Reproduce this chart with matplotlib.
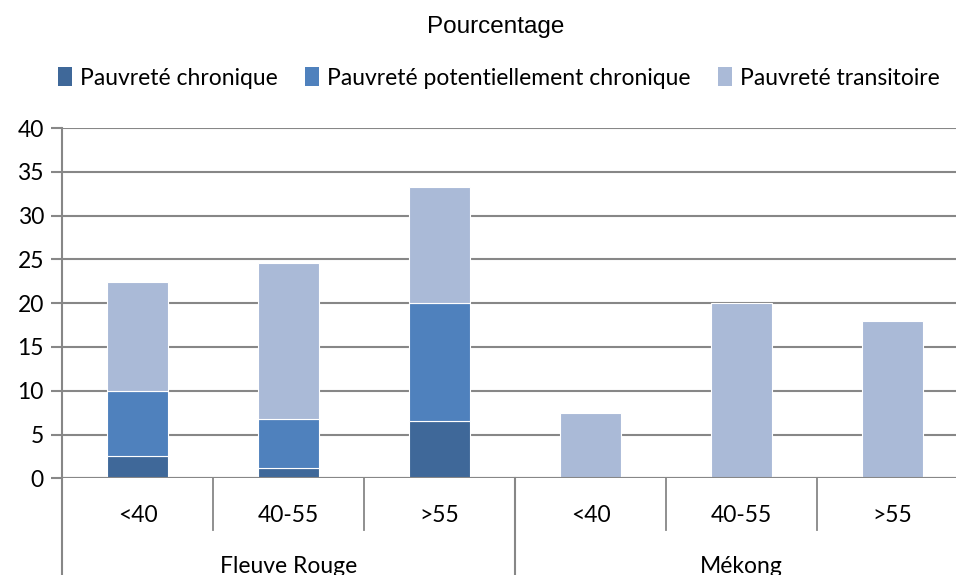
import matplotlib
matplotlib.use("Agg")
import matplotlib.pyplot as plt
from matplotlib.patches import Patch
import numpy as np

groups = ["Fleuve Rouge", "Mékong"]
age_labels = ["<40", "40-55", ">55", "<40", "40-55", ">55"]
series_names = ["Pauvreté chronique", "Pauvreté potentiellement chronique", "Pauvreté transitoire"]
chronique = [2.5, 1.2, 6.6, 0.0, 0.0, 0.0]
potentielle = [7.5, 5.6, 13.4, 0.0, 0.0, 0.0]
transitoire = [12.4, 17.8, 13.3, 7.5, 20.0, 18.0]
yticks = [0, 5, 10, 15, 20, 25, 30, 35, 40]

colors = ["#3F6899", "#4F81BD", "#AABAD7"]
grid_c = "#878787"
FONT = "Lato"
FS = 16.5

W, H = 956, 575
fig = plt.figure(figsize=(W / 100, H / 100), dpi=100)
x0, x1 = 62, 62 + 6 * 151
ytop, ybot = 128, 478.3
ax = fig.add_axes([x0 / W, (H - ybot) / H, (x1 - x0) / W, (ybot - ytop) / H])

x = np.arange(len(age_labels))
bw = 0.41
bottom = np.zeros(len(x))
for vals, c in zip([chronique, potentielle, transitoire], colors):
    v = np.array(vals)
    ax.bar(x, v, bw, bottom=bottom, color=c, edgecolor="white", linewidth=0.8, zorder=3)
    bottom += v

ax.set_xlim(-0.5, len(x) - 0.5)
ax.set_ylim(0, 40)
ax.set_yticks(yticks)
ax.set_yticklabels([str(t) for t in yticks], fontfamily=FONT, fontsize=FS)
ax.yaxis.grid(True, color=grid_c, linewidth=1.5, zorder=0)
ax.tick_params(axis="y", length=8, width=1.5, color=grid_c, pad=5)
ax.set_xticks([])
for s in ["top", "right", "bottom"]:
    ax.spines[s].set_visible(False)
ax.spines["left"].set_color(grid_c)
ax.spines["left"].set_linewidth(1.5)
ax.axhline(0, color=grid_c, linewidth=1.5, zorder=4)

trans = ax.get_xaxis_transform()
ppu = 1.0 / (ybot - ytop)
for b in [0.5, 1.5, 3.5, 4.5]:
    ax.plot([b, b], [0, -52 * ppu], transform=trans, color=grid_c, lw=1.3, clip_on=False)
for b in [-0.5, 2.5, 5.5]:
    ax.plot([b, b], [0, -120 * ppu], transform=trans, color=grid_c, lw=1.5, clip_on=False)

for xi, lab in zip(x, age_labels):
    ax.text(xi, -37 * ppu, lab, transform=trans, ha="center", va="center",
            fontfamily=FONT, fontsize=FS)
for gi, g in enumerate(groups):
    ax.text(gi * 3 + 1, -88 * ppu, g, transform=trans, ha="center", va="center",
            fontfamily=FONT, fontsize=FS)

fig.text(496 / W, 1 - 27 / H, "Pourcentage", ha="center", va="center",
         fontfamily="Liberation Sans", fontsize=17.5)

handles = [Patch(facecolor=c, edgecolor="none") for c in colors]
fig.legend(handles, series_names, loc="center", bbox_to_anchor=(499 / W, 1 - 78 / H),
           ncol=3, frameon=False, prop={"family": FONT, "size": FS},
           handlelength=0.61, handleheight=0.85, handletextpad=0.35, columnspacing=1.2,
           borderaxespad=0, borderpad=0)

fig.savefig("out.png", dpi=100)
